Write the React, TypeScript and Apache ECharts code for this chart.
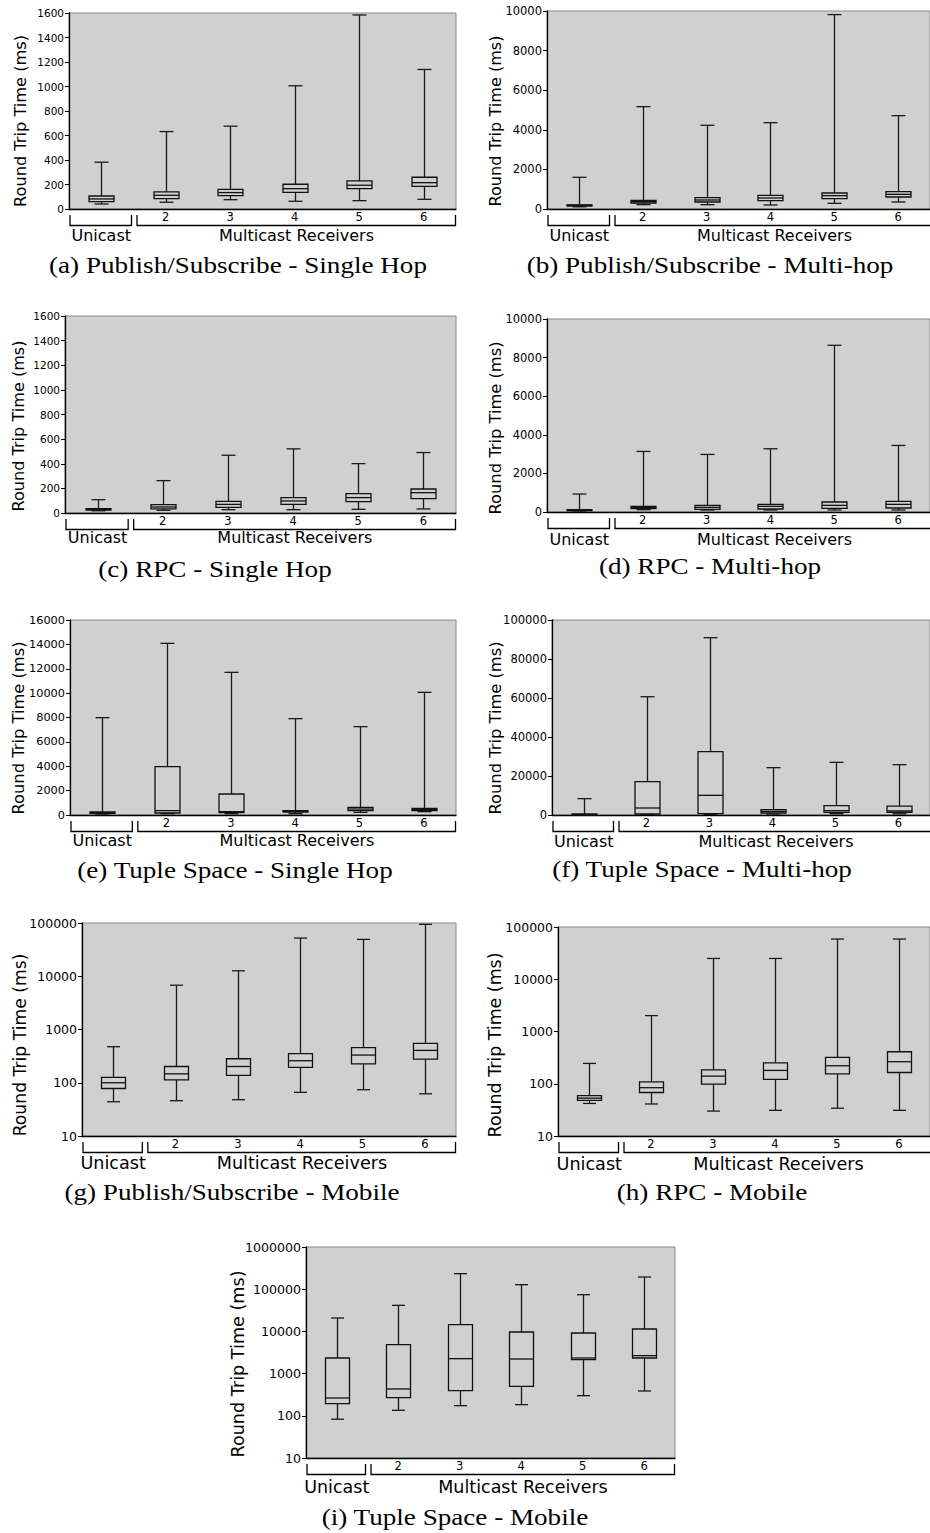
import React, { useEffect, useRef } from 'react';
import * as echarts from 'echarts';

// x categories
const categories = ['Unicast', '2', '3', '4', '5', '6'];

// each row: [lower whisker, Q1, median, Q3, upper whisker] (ms)
const pubSubSingleHop = [
  [41, 60, 82, 106, 382],
  [55, 85, 112, 139, 632],
  [76, 109, 134, 161, 676],
  [63, 136, 166, 202, 1006],
  [68, 166, 194, 229, 1584],
  [79, 185, 215, 259, 1139],
];
const pubSubMultiHop = [
  [110, 150, 180, 210, 1600],
  [219, 303, 370, 438, 5170],
  [219, 354, 455, 573, 4227],
  [202, 421, 556, 690, 4362],
  [286, 522, 674, 808, 9818],
  [354, 606, 741, 876, 4715],
];
const rpcSingleHop = [
  [18, 24, 30, 36, 108],
  [22, 33, 49, 68, 263],
  [27, 46, 70, 95, 469],
  [27, 70, 98, 125, 521],
  [30, 92, 125, 157, 401],
  [33, 117, 165, 195, 491],
];
const rpcMultiHop = [
  [50, 80, 100, 120, 931],
  [120, 172, 241, 293, 3138],
  [103, 138, 241, 345, 2983],
  [103, 155, 293, 396, 3276],
  [103, 190, 345, 517, 8638],
  [103, 207, 396, 552, 3448],
];
const tupleSingleHop = [
  [80, 130, 180, 250, 7986],
  [109, 164, 356, 3966, 14085],
  [109, 191, 274, 1723, 11706],
  [109, 246, 300, 356, 7904],
  [219, 356, 490, 629, 7248],
  [274, 356, 465, 547, 10065],
];
const tupleMultiHop = [
  [100, 200, 350, 500, 8376],
  [340, 510, 3590, 17090, 60670],
  [340, 680, 10080, 32470, 90920],
  [510, 1030, 1880, 2730, 24270],
  [680, 1370, 2220, 4790, 27000],
  [600, 1400, 2100, 4600, 25800],
];
const pubSubMobile = [
  [44, 78, 100, 126, 475],
  [46, 113, 147, 202, 6790],
  [48, 137, 202, 282, 12650],
  [66, 194, 259, 351, 52150],
  [74, 227, 331, 455, 49200],
  [62, 278, 405, 548, 94400],
];
const rpcMobile = [
  [42, 48, 53, 59, 245],
  [41, 68, 84, 109, 2014],
  [30, 98, 140, 185, 25000],
  [31, 121, 180, 252, 25000],
  [34, 155, 221, 319, 58800],
  [31, 164, 264, 410, 58800],
];
const tupleMobile = [
  [83, 194, 264, 2342, 20770],
  [135, 269, 432, 4848, 41480],
  [174, 394, 2259, 14440, 233400],
  [184, 499, 2218, 9678, 128000],
  [300, 2138, 2342, 9162, 74130],
  [387, 2342, 2661, 11400, 194500],
];

const captions = [
  '(a) Publish/Subscribe - Single Hop',
  '(b) Publish/Subscribe - Multi-hop',
  '(c) RPC - Single Hop',
  '(d) RPC - Multi-hop',
  '(e) Tuple Space - Single Hop',
  '(f) Tuple Space - Multi-hop',
  '(g) Publish/Subscribe - Mobile',
  '(h) RPC - Mobile',
  '(i) Tuple Space - Mobile',
];
const yAxisTitle = 'Round Trip Time (ms)';
const groupLabels = ['Unicast', 'Multicast Receivers'];

// y axis scales: [type, min, max, interval]
const yScales: [string, number, number, number][] = [
  ['value', 0, 1600, 200],
  ['value', 0, 10000, 2000],
  ['value', 0, 1600, 200],
  ['value', 0, 10000, 2000],
  ['value', 0, 16000, 2000],
  ['value', 0, 100000, 20000],
  ['log', 10, 100000, 0],
  ['log', 10, 100000, 0],
  ['log', 10, 1000000, 0],
];
const panelData = [
  pubSubSingleHop, pubSubMultiHop, rpcSingleHop, rpcMultiHop,
  tupleSingleHop, tupleMultiHop, pubSubMobile, rpcMobile, tupleMobile,
];

// layout (pixels)
const layout = [
  { left: 69, top: 13, width: 387, height: 196, yFont: 10.5, tX: 20, tY: 121, tFont: 16.2, labDy: 26, labFont: 16, capX: 238, capY: 265 },
  { left: 547, top: 11, width: 387, height: 198, yFont: 11.5, tX: 495, tY: 121, tFont: 16.1, labDy: 26, labFont: 16, capX: 710, capY: 265 },
  { left: 65, top: 316, width: 391, height: 197, yFont: 10.5, tX: 18, tY: 426, tFont: 16.1, labDy: 24, labFont: 16, capX: 215, capY: 569 },
  { left: 547, top: 319, width: 387, height: 193, yFont: 11.5, tX: 495, tY: 428, tFont: 16.3, labDy: 27, labFont: 16, capX: 710, capY: 566 },
  { left: 70, top: 620, width: 386, height: 195, yFont: 11.3, tX: 18, tY: 728, tFont: 16.3, labDy: 25, labFont: 16, capX: 235, capY: 870 },
  { left: 552, top: 620, width: 381, height: 195, yFont: 11.5, tX: 495, tY: 728, tFont: 16.3, labDy: 26, labFont: 16, capX: 702, capY: 869 },
  { left: 82, top: 923, width: 374, height: 213, yFont: 12.5, tX: 20, tY: 1045, tFont: 17.2, labDy: 27, labFont: 17.6, capX: 232, capY: 1192 },
  { left: 558, top: 927, width: 375, height: 209, yFont: 12.5, tX: 495, tY: 1045, tFont: 17.4, labDy: 28, labFont: 17.6, capX: 712, capY: 1192 },
  { left: 306, top: 1247, width: 369, height: 211, yFont: 12.6, tX: 238, tY: 1364, tFont: 17.6, labDy: 29, labFont: 17.5, capX: 455, capY: 1517 },
];

const SANS = 'DejaVu Sans';
const SERIF = 'Liberation Serif';

function makeRender(boxW: number, capW: number) {
  return (params: any, api: any) => {
    const x = api.value(0);
    const lo = api.coord([x, api.value(1)]);
    const q1 = api.coord([x, api.value(2)]);
    const md = api.coord([x, api.value(3)]);
    const q3 = api.coord([x, api.value(4)]);
    const hi = api.coord([x, api.value(5)]);
    const cx = Math.round(lo[0]) + 0.5;
    const st = { stroke: '#1a1a1a', lineWidth: 1.3, fill: null };
    return {
      type: 'group',
      children: [
        { type: 'line', shape: { x1: cx, y1: hi[1], x2: cx, y2: q3[1] }, style: st },
        { type: 'line', shape: { x1: cx, y1: q1[1], x2: cx, y2: lo[1] }, style: st },
        { type: 'line', shape: { x1: cx - capW / 2, y1: hi[1], x2: cx + capW / 2, y2: hi[1] }, style: st },
        { type: 'line', shape: { x1: cx - capW / 2, y1: lo[1], x2: cx + capW / 2, y2: lo[1] }, style: st },
        { type: 'rect', shape: { x: cx - boxW / 2, y: q3[1], width: boxW, height: Math.max(q1[1] - q3[1], 1) }, style: { stroke: '#111', lineWidth: 1.3, fill: '#d0d0d0' } },
        { type: 'line', shape: { x1: cx - boxW / 2, y1: md[1], x2: cx + boxW / 2, y2: md[1] }, style: { stroke: '#111', lineWidth: 1.3 } },
      ],
    };
  };
}

export default function App() {
  const ref = useRef<HTMLDivElement>(null);
  useEffect(() => {
    if (!ref.current) return;
    const chart = echarts.init(ref.current, undefined, { renderer: 'svg' });
    const grid: any[] = [];
    const xAxis: any[] = [];
    const yAxis: any[] = [];
    const series: any[] = [];
    const graphic: any[] = [];

    layout.forEach((L, i) => {
      const [ytype, ymin, ymax, yint] = yScales[i];
      grid.push({
        left: L.left, top: L.top, width: L.width, height: L.height,
        show: true, backgroundColor: '#d0d0d0', borderColor: '#8a8a8a', borderWidth: 1,
      });
      xAxis.push({
        type: 'category', gridIndex: i, data: categories, boundaryGap: true,
        axisLine: { show: true, onZero: false, lineStyle: { color: '#000', width: 1.3 } },
        axisTick: { show: false },
        axisLabel: {
          show: true, margin: 2, color: '#000', fontFamily: SANS, fontSize: 11.5,
          formatter: (v: string) => (v === categories[0] ? '' : v),
        },
        splitLine: { show: false },
      });
      const ya: any = {
        type: ytype, gridIndex: i, min: ymin, max: ymax,
        axisLine: { show: true, onZero: false, lineStyle: { color: '#000', width: 1.3 } },
        axisTick: { show: true, inside: false, length: 4, lineStyle: { color: '#000' } },
        axisLabel: {
          margin: 5, color: '#000', fontFamily: SANS, fontSize: L.yFont,
          formatter: (v: number) => String(Math.round(v)),
        },
        splitLine: { show: false },
      };
      if (ytype === 'value') ya.interval = yint;
      else ya.logBase = 10;
      yAxis.push(ya);

      const band = L.width / 6;
      const boxW = Math.round(band * 0.39);
      const capW = Math.round(boxW * 0.56);
      series.push({
        type: 'custom', xAxisIndex: i, yAxisIndex: i,
        renderItem: makeRender(boxW, capW),
        encode: { x: 0, y: [1, 2, 3, 4, 5] },
        data: panelData[i].map((d, k) => [k, ...d]),
        clip: false, z: 5,
      });

      const bottom = L.top + L.height;
      const bt = bottom + 6;
      const bl = bottom + 16.5;
      const u1 = L.left + 1;
      const u2 = L.left + band - 2;
      const m1 = L.left + band + 3.5;
      const m2 = L.left + L.width - 0.5;
      const bst = { stroke: '#000', lineWidth: 1.3, fill: null };
      graphic.push({ type: 'polyline', shape: { points: [[u1, bt], [u1, bl], [u2, bl], [u2, bt]] }, style: bst });
      graphic.push({ type: 'polyline', shape: { points: [[m1, bt], [m1, bl], [m2, bl], [m2, bt]] }, style: bst });
      graphic.push({
        type: 'text', x: L.left + band / 2, y: bottom + L.labDy,
        style: { text: groupLabels[0], fontFamily: SANS, fontSize: L.labFont, fill: '#000', align: 'center', verticalAlign: 'middle' },
      });
      graphic.push({
        type: 'text', x: (m1 + L.left + L.width) / 2, y: bottom + L.labDy,
        style: { text: groupLabels[1], fontFamily: SANS, fontSize: L.labFont, fill: '#000', align: 'center', verticalAlign: 'middle' },
      });
      graphic.push({
        type: 'text', x: L.tX, y: L.tY, rotation: Math.PI / 2,
        style: { text: yAxisTitle, fontFamily: SANS, fontSize: L.tFont, fill: '#000', align: 'center', verticalAlign: 'middle' },
      });
      graphic.push({
        type: 'text', x: L.capX, y: L.capY, scaleX: 1.13,
        style: { text: captions[i], fontFamily: SERIF, fontSize: 24, fill: '#000', align: 'center', verticalAlign: 'middle' },
      });
    });

    chart.setOption({
      animation: false,
      backgroundColor: '#fff',
      grid, xAxis, yAxis, series, graphic,
    });
    return () => chart.dispose();
  }, []);
  return (
    <div
      ref={ref}
      style={{ position: 'absolute', left: 0, top: 0, width: 930, height: 1533, background: '#fff' }}
    />
  );
}
